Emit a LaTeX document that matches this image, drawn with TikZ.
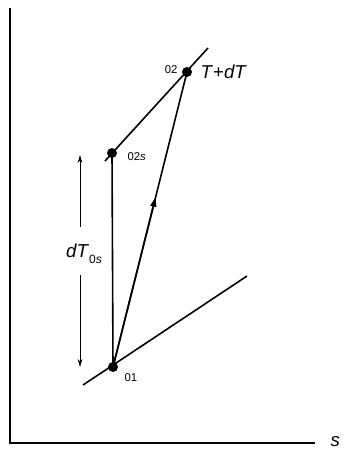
\documentclass[tikz,border=0pt]{standalone}
\usepackage{fontspec}
\setmainfont{Liberation Sans}
\usetikzlibrary{arrows.meta, calc}

\begin{document}
\begin{tikzpicture}[x=0.75pt, y=-0.75pt,
    dot/.style={circle, fill=black, inner sep=0pt, minimum size=7.5pt},
    state/.style={font=\fontsize{8.5}{10}\selectfont, inner sep=1pt},
    big/.style={font=\fontsize{14}{16}\selectfont, inner sep=1pt}]
                \useasboundingbox (0,0) rectangle (346,451);

                % axes
                \coordinate (top) at (10,8);
                \coordinate (orig) at (10,443);
                \coordinate (right) at (315,443);
                \draw[line width=1.1pt] (top) -- (orig) -- (right);
                \node[big, anchor=west] (s) at (329,442) {\textit{s}};

                % states
                \node[dot] (p01) at (113,367) {};
                \node[dot] (p02s) at (112,153) {};
                \node[dot] (p02) at (187,72) {};

                % isobars
                \coordinate (lowA) at (83,385);
                \coordinate (lowB) at (247,276);
                \coordinate (upA) at (105,161);
                \coordinate (upB) at (208,48);
                \draw[line width=1.2pt] (lowA) -- (lowB);
                \draw[line width=1.2pt] (upA) -- (upB);

                % processes
                \draw[line width=1.2pt] (p01.center) -- (p02s.center);
                \draw[line width=1.2pt] (p01.center) -- (p02.center);
                \draw[-{Triangle[length=7pt, width=4.5pt]}, line width=1.2pt]
                    (p01.center) -- ($(p01)!0.575!(p02)$);

                % labels
                \node[state, anchor=east] (l02) at (179,70) {02};
                \node[big, anchor=west] (lTdT) at (199,72) {\textit{T}+\textit{dT}};
                \node[state, anchor=west] (l02s) at (126,157) {02\textit{s}};
                \node[state, anchor=west] (l01) at (123,378) {01};

                % dimension
                \node[big] (ldim) at (84,254)
                    {\textit{dT}\raisebox{-0.6ex}{\fontsize{9}{10}\selectfont 0\textit{s}}};
                \coordinate (dimtop) at (80,155);
                \coordinate (dimup) at (80,227);
                \coordinate (dimdn) at (80,275);
                \coordinate (dimbot) at (80,367);
                \draw[-{Stealth[length=6pt, width=3.5pt]}, line width=0.6pt] (dimup) -- (dimtop);
                \draw[-{Stealth[length=6pt, width=3.5pt]}, line width=0.6pt] (dimdn) -- (dimbot);

            \end{tikzpicture}
\end{document}
